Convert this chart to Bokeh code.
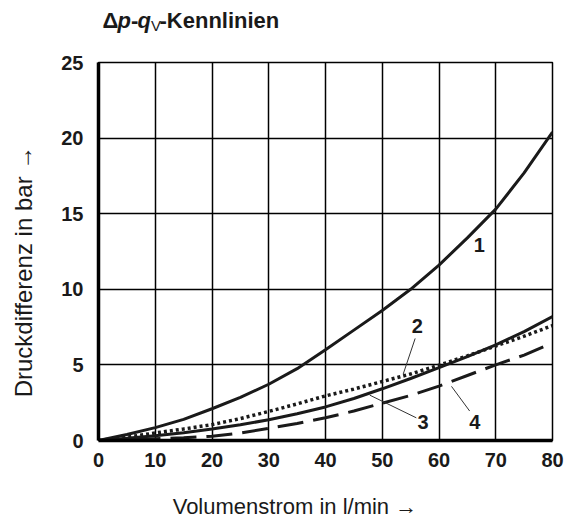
from bokeh.plotting import figure
from bokeh.models import Range1d, Label, FixedTicker
from bokeh.layouts import column
from bokeh.embed import file_html
from bokeh.resources import INLINE

# ---- data ----
flow = [0, 5, 10, 15, 20, 25, 30, 35, 40, 45, 50, 55, 60, 65, 70, 75, 80]
curve1 = [0, 0.40, 0.85, 1.40, 2.10, 2.85, 3.72, 4.75, 6.00, 7.30, 8.60, 10.00, 11.60, 13.40, 15.30, 17.70, 20.40]
curve2 = [0, 0.22, 0.50, 0.76, 1.05, 1.45, 1.92, 2.42, 2.95, 3.40, 3.90, 4.40, 4.98, 5.60, 6.25, 6.90, 7.60]
curve3 = [0, 0.15, 0.32, 0.52, 0.76, 1.04, 1.37, 1.77, 2.22, 2.78, 3.42, 4.10, 4.82, 5.55, 6.33, 7.20, 8.20]
flow4 = [0, 5, 10, 15, 20, 25, 30, 35, 40, 45, 50, 55, 60, 65, 70, 75, 79]
curve4 = [0, 0.05, 0.12, 0.18, 0.28, 0.50, 0.80, 1.13, 1.50, 1.95, 2.47, 2.98, 3.60, 4.30, 5.00, 5.65, 6.30]

x_ticks = [0, 10, 20, 30, 40, 50, 60, 70, 80]
y_ticks = [0, 5, 10, 15, 20, 25]

curve_labels = ["1", "2", "3", "4"]
label_x = [67.1, 56.2, 57.2, 66.3]
label_y = [12.9, 7.55, 1.25, 1.2]
# leader lines (start near label -> end on curve)
lead_x0 = [55.8, 56.0, 65.4]
lead_y0 = [6.75, 1.5, 1.95]
lead_x1 = [53.7, 47.8, 62.2]
lead_y1 = [4.40, 3.0, 3.58]

x_title = "Volumenstrom in l/min \u2192"
y_title = "Druckdifferenz in bar \u2192"
NB = "\u00a0"

FONT = "Liberation Sans"
INK = "#1a1a1a"
W = 564
LEFT, RIGHT = 98, 12

# ---- title strip: Δp-qV-Kennlinien (its frame is aligned with the chart frame) ----
TH = 40
t = figure(width=W, height=TH, output_backend="svg", toolbar_location=None,
           x_range=Range1d(LEFT, W - RIGHT), y_range=Range1d(0, TH),
           x_axis_type=None, y_axis_type=None,
           min_border_left=LEFT, min_border_right=RIGHT, min_border_top=0, min_border_bottom=0)
t.grid.visible = False
t.outline_line_color = None
t.background_fill_color = "white"
t.border_fill_color = "white"
title_parts = [("\u0394", "bold", "22px", 102, 20),
               ("p", "bold italic", "22px", 117, 20),
               ("-", "bold", "22px", 130.5, 20),
               ("q", "bold italic", "22px", 137, 20),
               ("V", "normal", "15px", 150.5, 15),
               ("-Kennlinien", "bold", "22px", 159, 20)]
for txt, style, size, xx, yy in title_parts:
    t.add_layout(Label(x=xx, y=yy, text=txt, text_font=FONT,
                       text_font_style=style, text_font_size=size,
                       text_align="left", text_baseline="alphabetic",
                       text_color=INK))

# ---- main chart ----
p = figure(width=W, height=521 - TH, output_backend="svg", toolbar_location=None,
           x_range=Range1d(0, 80), y_range=Range1d(0, 25),
           min_border_left=LEFT, min_border_right=RIGHT, min_border_top=62 - TH, min_border_bottom=81)
p.background_fill_color = "white"
p.border_fill_color = "white"
p.outline_line_color = "black"
p.outline_line_width = 1.5

for ax in (p.xaxis[0], p.yaxis[0]):
    ax.axis_line_width = 3.5
    ax.axis_line_color = "black"
    ax.major_tick_out = 0
    ax.major_tick_in = 0
    ax.minor_tick_out = 0
    ax.minor_tick_in = 0
    ax.major_label_text_font = FONT
    ax.major_label_text_font_style = "bold"
    ax.major_label_text_font_size = "20px"
    ax.major_label_text_color = INK
    ax.axis_label_text_font = FONT
    ax.axis_label_text_font_style = "normal"
    ax.axis_label_text_color = INK
p.xaxis.axis_label_text_font_size = "22px"
p.yaxis.axis_label_text_font_size = "24px"
p.xaxis.ticker = FixedTicker(ticks=x_ticks)
p.yaxis.ticker = FixedTicker(ticks=y_ticks)
p.xaxis.major_label_standoff = 12
p.yaxis.major_label_standoff = 15
# trailing no-break spaces shift the titles off-centre, as in the reference
p.xaxis.axis_label = x_title + NB * 10
p.yaxis.axis_label = y_title + NB * 6
p.xaxis.axis_label_standoff = 24
p.yaxis.axis_label_standoff = 21

p.xgrid.ticker = FixedTicker(ticks=x_ticks)
p.ygrid.ticker = FixedTicker(ticks=y_ticks)
for g in (p.xgrid[0], p.ygrid[0]):
    g.grid_line_color = "black"
    g.grid_line_width = 1.5
    g.grid_line_alpha = 1.0

p.line(flow, curve1, line_color=INK, line_width=3)
p.line(flow, curve2, line_color=INK, line_width=3.5, line_dash="3 3")
p.line(flow, curve3, line_color=INK, line_width=3)
p.line(flow4, curve4, line_color=INK, line_width=3, line_dash="26 10")

p.segment(lead_x0, lead_y0, lead_x1, lead_y1, line_color="#333333", line_width=1)

for txt, lx, ly in zip(curve_labels, label_x, label_y):
    p.add_layout(Label(x=lx, y=ly, text=txt, text_font=FONT, text_font_style="bold",
                       text_font_size="20px", text_align="center", text_baseline="middle",
                       text_color=INK))

open("out.html", "w").write(file_html(column(t, p, spacing=0), INLINE))
